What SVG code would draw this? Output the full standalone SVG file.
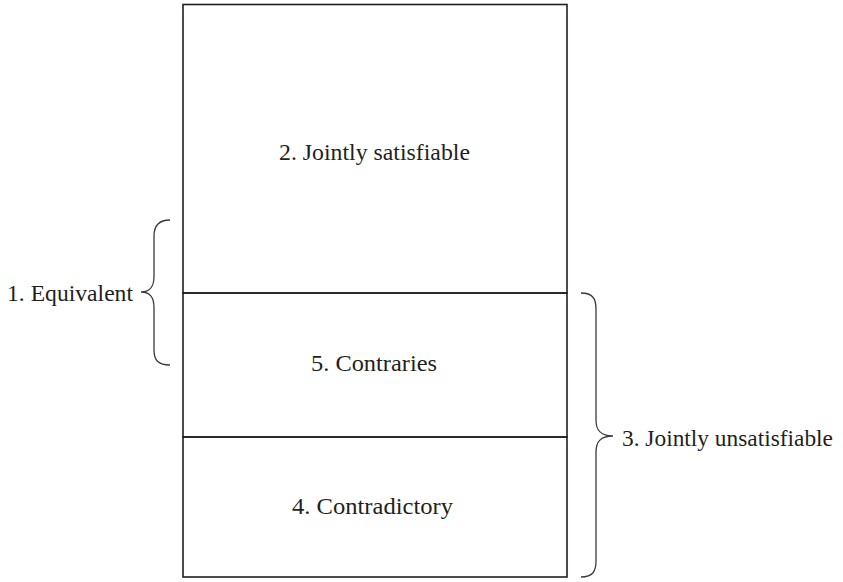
<svg xmlns="http://www.w3.org/2000/svg" width="843" height="582" viewBox="0 0 843 582">
<style>
text{font-family:"Liberation Serif","DejaVu Serif",serif;font-size:23px;fill:#231f20}
.ln{stroke:#231f20;stroke-width:1.6;fill:none}
.br{stroke:#3a3a3a;stroke-width:1.3;fill:none}
</style>
<rect width="843" height="582" fill="#fff"/>
<g id="box-satisfiable">
<rect x="183" y="4.5" width="384" height="288.5" class="ln"/>
<text x="279" y="160" textLength="191" lengthAdjust="spacingAndGlyphs">2. Jointly satisfiable</text>
</g>
<g id="box-contraries">
<rect x="183" y="293" width="384" height="144" class="ln"/>
<text x="311" y="371" textLength="126" lengthAdjust="spacingAndGlyphs">5. Contraries</text>
</g>
<g id="box-contradictory">
<rect x="183" y="437" width="384" height="140" class="ln"/>
<text x="292" y="514" textLength="161" lengthAdjust="spacingAndGlyphs">4. Contradictory</text>
</g>
<g id="connectors">
<path class="br" d="M170,220 C158,220 154,226 154,236 L154,276 C154,286 151,292 141,292 C151,292 154,298 154,308 L154,350 C154,360 158,365 170,365"/>
<path class="br" d="M581,293 C593,293 596,299 596,309 L596,420 C596,430 600,436 613,436 C600,436 596,442 596,452 L596,561 C596,571 593,577 581,577"/>
</g>
<g id="label-equivalent">
<text x="7" y="301" textLength="126" lengthAdjust="spacingAndGlyphs">1. Equivalent</text>
</g>
<g id="label-unsatisfiable">
<text x="622" y="446" textLength="211" lengthAdjust="spacingAndGlyphs">3. Jointly unsatisfiable</text>
</g>
</svg>
